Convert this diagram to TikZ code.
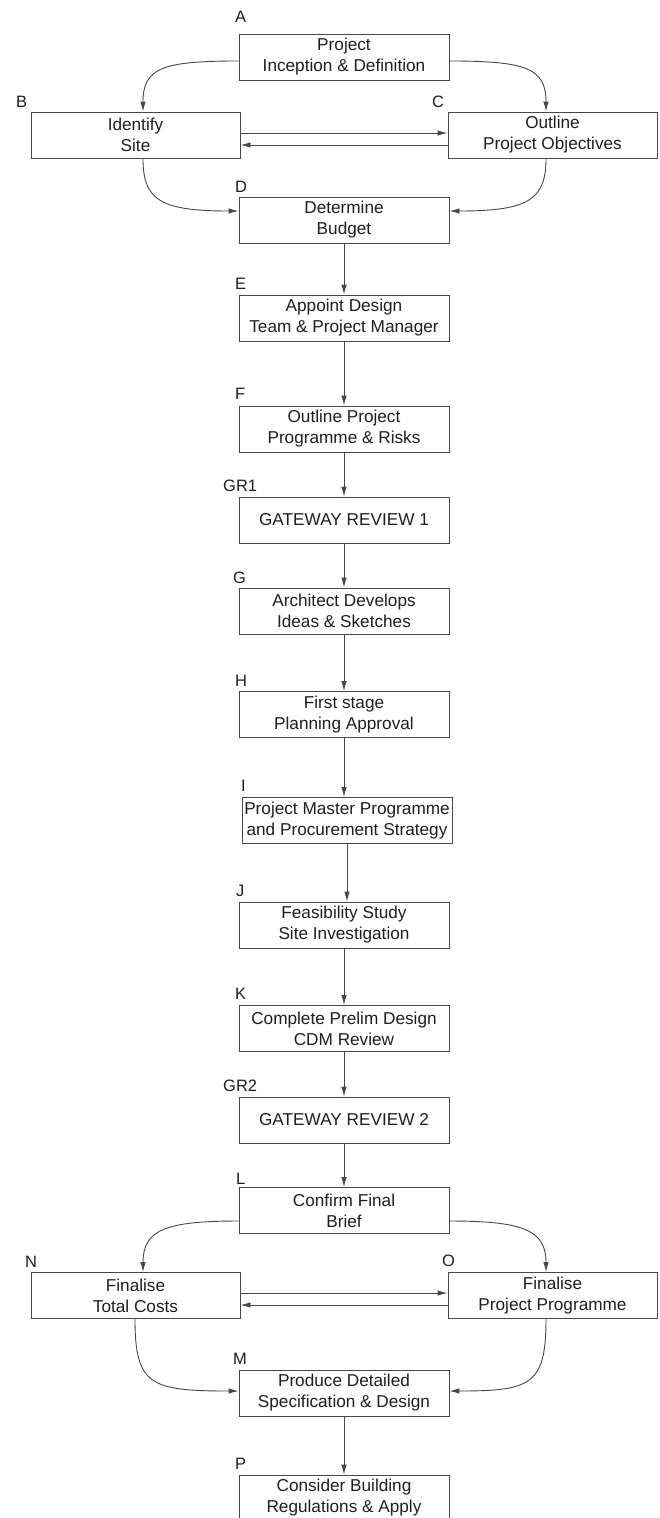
\documentclass[tikz,border=0pt]{standalone}
\usepackage{fontspec}
\setmainfont{Liberation Sans}
\usetikzlibrary{arrows.meta}
\definecolor{lncol}{gray}{0.28}
\definecolor{txcol}{gray}{0.12}
\tikzset{
  stepbox/.style={draw=lncol, line width=0.9pt, minimum width=210pt, minimum height=46pt,
    inner sep=0pt, align=center, text=txcol, font=\fontsize{17.2}{21}\selectfont},
  lbl/.style={anchor=base west, inner sep=0pt, text=txcol, font=\fontsize{16.5}{20}\selectfont},
  arr/.style={draw=lncol, line width=0.9pt, -{Latex[length=10pt,width=5.5pt]}}
}
\begin{document}
\begin{tikzpicture}[x=1pt,y=-1pt]
\useasboundingbox (0,0) rectangle (659,1518);
\clip (0,0) rectangle (659,1518);
\fill[white] (0,0) rectangle (659,1518);
% boxes
\node[stepbox] (A) at (344,57) {Project\\Inception \& Definition};
\node[stepbox, minimum width=209pt] (B) at (135.5,135) {Identify\\Site};
\node[stepbox, minimum width=209pt] (C) at (552.5,135) {Outline\\Project Objectives};
\node[stepbox] (D) at (344,220) {Determine\\Budget};
\node[stepbox] (E) at (344,318) {Appoint Design\\Team \& Project Manager};
\node[stepbox] (F) at (344,429) {Outline Project\\Programme \& Risks};
\node[stepbox] (GR1) at (344,520) {GATEWAY REVIEW 1};
\node[stepbox] (G) at (344,611) {Architect Develops\\Ideas \& Sketches};
\node[stepbox] (H) at (344,714.5) {First stage\\Planning Approval};
\node[stepbox] (I) at (347,820.5) {Project Master Programme\\and Procurement Strategy};
\node[stepbox] (J) at (344,925) {Feasibility Study\\Site Investigation};
\node[stepbox] (K) at (344,1028.5) {Complete Prelim Design\\CDM Review};
\node[stepbox] (GR2) at (344,1120) {GATEWAY REVIEW 2};
\node[stepbox] (L) at (344,1210.5) {Confirm Final\\Brief};
\node[stepbox, minimum width=209pt] (N) at (135.5,1295.5) {Finalise\\Total Costs};
\node[stepbox, minimum width=209pt] (O) at (552.5,1295.5) {Finalise\\Project Programme};
\node[stepbox] (M) at (344,1393) {Produce Detailed\\Specification \& Design};
\node[stepbox] (P) at (344,1498) {Consider Building\\Regulations \& Apply};
% labels
\node[lbl] (lA) at (235,22) {A};
\node[lbl] (lB) at (16,107) {B};
\node[lbl] (lC) at (432,107) {C};
\node[lbl] (lD) at (235,192) {D};
\node[lbl] (lE) at (235,289) {E};
\node[lbl] (lF) at (235,399) {F};
\node[lbl] (lGR1) at (223,491) {GR1};
\node[lbl] (lG) at (233,583) {G};
\node[lbl] (lH) at (235,686) {H};
\node[lbl] (lI) at (241,791) {I};
\node[lbl] (lJ) at (236,896) {J};
\node[lbl] (lK) at (235,999) {K};
\node[lbl] (lGR2) at (223,1091) {GR2};
\node[lbl] (lL) at (236,1184) {L};
\node[lbl] (lN) at (25,1267) {N};
\node[lbl] (lO) at (442,1266) {O};
\node[lbl] (lM) at (233,1364) {M};
\node[lbl] (lP) at (235,1469) {P};
% top cluster
\draw[arr] ([yshift=-4pt]A.west) .. controls (162,61) and (143,68) .. ([xshift=7.5pt]B.north);
\draw[arr] ([yshift=-4pt]A.east) .. controls (526,61) and (546,68) .. ([xshift=-6.5pt]C.north);
\draw[arr] ([xshift=7.5pt]B.south) .. controls (143,200) and (160,211) .. ([yshift=9pt]D.west);
\draw[arr] ([xshift=-6.5pt]C.south) .. controls (546,200) and (528,211) .. ([yshift=9pt]D.east);
\draw[arr] ([yshift=2pt]B.east) -- ([yshift=2pt]C.west);
\draw[arr] ([yshift=-10pt]C.west) -- ([yshift=-10pt]B.east);
% vertical chain
\draw[arr] (D) -- (E);
\draw[arr] (E) -- (F);
\draw[arr] (F) -- (GR1);
\draw[arr] (GR1) -- (G);
\draw[arr] (G) -- (H);
\draw[arr] (H.south) -- (H.south |- I.north);
\draw[arr] (I.south) -- (I.south |- J.north);
\draw[arr] (J) -- (K);
\draw[arr] (K) -- (GR2);
\draw[arr] (GR2) -- (L);
% bottom cluster
\draw[arr] ([yshift=-10.5pt]L.west) .. controls (165,1221) and (143,1230) .. ([xshift=7.5pt]N.north);
\draw[arr] ([yshift=-10.5pt]L.east) .. controls (523,1221) and (546,1230) .. ([xshift=-6.5pt]O.north);
\draw[arr] ([xshift=-0.5pt]N.south) .. controls (135,1385) and (150,1391) .. ([yshift=2pt]M.west);
\draw[arr] ([xshift=-6.5pt]O.south) .. controls (546,1385) and (531,1391) .. ([yshift=2pt]M.east);
\draw[arr] ([yshift=2.5pt]N.east) -- ([yshift=2.5pt]O.west);
\draw[arr] ([yshift=-9.5pt]O.west) -- ([yshift=-9.5pt]N.east);
\draw[arr] (M) -- (P);
\end{tikzpicture}
\end{document}
